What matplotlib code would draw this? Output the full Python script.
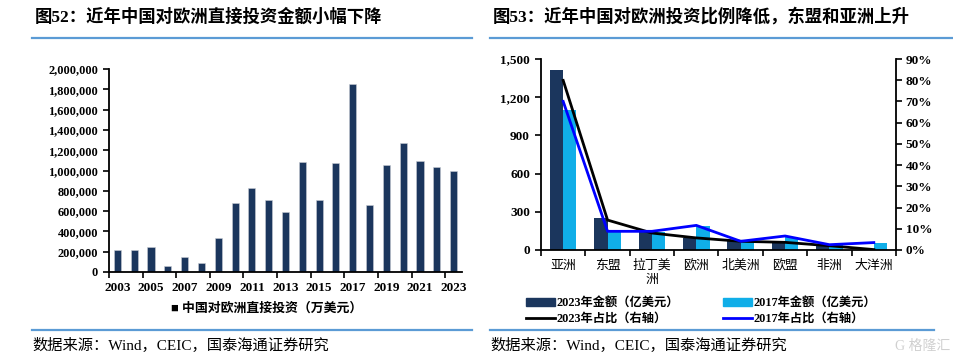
import matplotlib
matplotlib.use("Agg")
import matplotlib.pyplot as plt
from matplotlib.ticker import FuncFormatter, FixedLocator
from matplotlib.patches import Patch
from matplotlib.lines import Line2D

plt.rcParams['font.family'] = ['Liberation Serif', 'Noto Sans CJK SC', 'DejaVu Sans']

# ---------------- data ----------------
years = list(range(2003, 2024))
fdi_europe = [213000, 213000, 243000, 59000, 151000, 92000, 331000, 675000, 826000,
              705000, 593000, 1085000, 711000, 1069000, 1849000, 662000, 1052000,
              1272000, 1092000, 1033000, 1000000]

regions = ['亚洲', '东盟', '拉丁美\n洲', '欧洲', '北美洲', '欧盟', '非洲', '大洋洲']
amount_2023 = [1416, 251, 139, 94, 68, 60, 42, 8]
amount_2017 = [1102, 141, 139, 186, 65, 102, 41, 52]
share_2023 = [79.9, 14.1, 8.0, 5.7, 4.1, 3.6, 2.0, 0.2]
share_2017 = [70.0, 8.8, 8.8, 11.6, 4.1, 6.6, 2.5, 3.5]

title_left = '图52：近年中国对欧洲直接投资金额小幅下降'
title_right = '图53：近年中国对欧洲投资比例降低，东盟和亚洲上升'
legend_left = '中国对欧洲直接投资（万美元）'
legend_right = ['2023年金额（亿美元）', '2017年金额（亿美元）', '2023年占比（右轴）', '2017年占比（右轴）']
source = '数据来源：Wind，CEIC，国泰海通证券研究'

DARK = '#1b365d'
LIGHT = '#10aee8'
RULE = '#5b9bd5'

W, H = 954, 361
fig = plt.figure(figsize=(W / 100, H / 100), dpi=100)

def ax_px(x0, y0, x1, y1):
    return fig.add_axes([x0 / W, 1 - y1 / H, (x1 - x0) / W, (y1 - y0) / H])

def hline(x0, x1, y, color=RULE, lw=1.6):
    fig.add_artist(Line2D([x0 / W, x1 / W], [1 - y / H, 1 - y / H], color=color, lw=lw))

# titles and rules
fig.text(35 / W, 1 - 17 / H, title_left, fontsize=12.5, fontweight='bold', va='center', ha='left')
fig.text(493 / W, 1 - 17 / H, title_right, fontsize=12.5, fontweight='bold', va='center', ha='left')
hline(32, 472, 38)
hline(490, 952, 38)
hline(32, 472, 330)
hline(490, 934, 330)
fig.text(32 / W, 1 - 345 / H, source, fontsize=11, va='center', ha='left')
fig.text(490 / W, 1 - 345 / H, source, fontsize=11, va='center', ha='left')
fig.text(950 / W, 1 - 346 / H, 'G 格隆汇', fontsize=10, va='center', ha='right', color='#d0d0d0')

# ---------------- left chart ----------------
ax = ax_px(109, 69, 462, 272)
x = list(range(len(years)))
ax.bar(x, fdi_europe, width=0.42, color=DARK, edgecolor='#c8ccd4', linewidth=0.4)
ax.set_xlim(-0.5, len(years) - 0.5)
ax.set_ylim(0, 2000000)
ax.set_yticks(range(0, 2000001, 200000))
ax.yaxis.set_major_formatter(FuncFormatter(lambda v, p: f'{int(v):,}'))
ax.set_xticks(x[::2])
ax.set_xticklabels([str(y) for y in years[::2]])
ax.xaxis.set_minor_locator(FixedLocator([i - 0.5 for i in range(0, len(years) + 1, 2)]))
ax.tick_params(axis='x', which='major', length=0, pad=7)
ax.tick_params(axis='x', which='minor', length=4, width=1.2, direction='out')
ax.tick_params(axis='y', length=4, width=1.2, direction='out', pad=4)
for lbl in ax.get_xticklabels():
    lbl.set_fontsize(9.5)
    lbl.set_fontweight('bold')
for lbl in ax.get_yticklabels():
    lbl.set_fontsize(8.8)
    lbl.set_fontweight('bold')
for s in ['top', 'right']:
    ax.spines[s].set_visible(False)
for s in ['left', 'bottom']:
    ax.spines[s].set_linewidth(1.3)
fig.text(267 / W, 1 - 309 / H, '■ ' + legend_left, fontsize=9.3, fontweight='bold',
         va='center', ha='center', color='black')

# ---------------- right chart ----------------
axr = ax_px(541, 59, 896, 250)
xr = list(range(len(regions)))
axr.bar([i - 0.15 for i in xr], amount_2023, width=0.3, color=DARK)
axr.bar([i + 0.15 for i in xr], amount_2017, width=0.3, color=LIGHT)
axr.set_xlim(-0.5, len(regions) - 0.5)
axr.set_ylim(0, 1500)
axr.set_yticks(range(0, 1501, 300))
axr.yaxis.set_major_formatter(FuncFormatter(lambda v, p: f'{int(v):,}'))
axr.set_xticks(xr)
axr.set_xticklabels(regions, fontsize=9.3)
axr.xaxis.set_minor_locator(FixedLocator([i - 0.5 for i in range(len(regions) + 1)]))
axr.tick_params(axis='x', which='major', length=0, pad=7)
axr.tick_params(axis='x', which='minor', length=4, width=1.2, direction='out')
axr.tick_params(axis='y', length=4, width=1.2, direction='out', pad=4)
for lbl in axr.get_yticklabels():
    lbl.set_fontsize(9.5)
    lbl.set_fontweight('bold')
for lbl in axr.get_xticklabels():
    lbl.set_linespacing(1.2)
for s in ['top', 'right']:
    axr.spines[s].set_visible(False)
for s in ['left', 'bottom']:
    axr.spines[s].set_linewidth(1.3)

ax2 = axr.twinx()
ax2.plot(xr, share_2023, color='black', lw=2)
ax2.plot(xr, share_2017, color='#0000ff', lw=2)
ax2.set_ylim(0, 90)
ax2.set_yticks(range(0, 91, 10))
ax2.yaxis.set_major_formatter(FuncFormatter(lambda v, p: f'{int(v)}%'))
ax2.tick_params(axis='y', length=4, width=1.2, direction='out', pad=3)
for lbl in ax2.get_yticklabels():
    lbl.set_fontsize(9.5)
    lbl.set_fontweight('bold')
for s in ['top', 'left', 'bottom']:
    ax2.spines[s].set_visible(False)
ax2.spines['right'].set_linewidth(1.3)

h_bar23 = Patch(color=DARK)
h_bar17 = Patch(color=LIGHT)
h_ln23 = Line2D([], [], color='black', lw=2)
h_ln17 = Line2D([], [], color='#0000ff', lw=2)
# column-major ordering so rows read: amounts / shares
handles = [h_bar23, h_ln23, h_bar17, h_ln17]
labels = [legend_right[0], legend_right[2], legend_right[1], legend_right[3]]
fig.legend(handles, labels, ncol=2, loc='center', bbox_to_anchor=(701 / W, 1 - 311 / H),
           frameon=False, prop={'size': 8.8, 'weight': 'bold'}, handlelength=2.4,
           handleheight=0.6, handletextpad=0.1, columnspacing=3.6, labelspacing=0.3,
           borderpad=0.2)

fig.savefig('out.png', dpi=100)
